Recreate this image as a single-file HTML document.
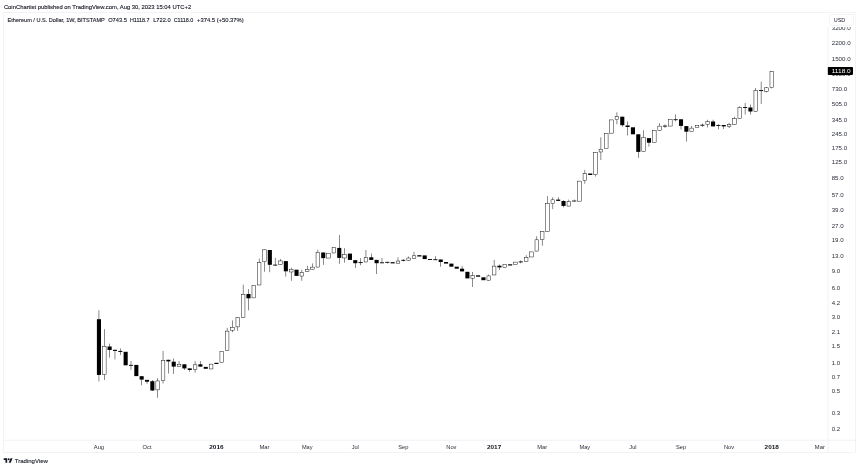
<!DOCTYPE html>
<html><head><meta charset="utf-8"><title>ETHUSD chart</title>
<style>
html,body{margin:0;padding:0;background:#fff;}
body{width:860px;height:469px;overflow:hidden;position:relative;font-family:"Liberation Sans",sans-serif;}
svg{position:absolute;left:0;top:0;display:block;will-change:transform;}
text{font-family:"Liberation Sans",sans-serif;fill:#131722;}
.ax{font-size:5.9px;fill:#2a2e39;}
.tx{font-size:6.1px;fill:#2a2e39;}
.b{font-weight:bold;fill:#131722;}
.hd{font-size:6.1px;fill:#131722;stroke:#131722;stroke-width:0.12px;}
.lg{font-size:6.1px;fill:#131722;stroke:#131722;stroke-width:0.12px;}
</style></head><body>
<svg width="860" height="469" viewBox="0 0 860 469">
<!-- frame -->
<rect x="3.4" y="12.4" width="852.2" height="440" fill="none" stroke="#e3e5ea" stroke-width="0.45"/>
<line x1="3.4" y1="440.3" x2="855.6" y2="440.3" stroke="#e3e5ea" stroke-width="0.45"/>
<line x1="828.1" y1="26.8" x2="828.1" y2="452.4" stroke="#e3e5ea" stroke-width="0.45"/>
<!-- candles -->
<g>
<rect x="98.72" y="310.30" width="0.46" height="71.10" fill="#000"/>
<rect x="96.90" y="319.20" width="4.1" height="55.70" fill="#000"/>
<rect x="104.06" y="329.20" width="0.46" height="50.80" fill="#000"/>
<rect x="102.47" y="346.33" width="3.65" height="28.35" fill="#fff" stroke="#000" stroke-width="0.45"/>
<rect x="109.40" y="343.60" width="0.46" height="14.00" fill="#000"/>
<rect x="107.58" y="346.50" width="4.1" height="3.50" fill="#000"/>
<rect x="114.74" y="349.80" width="0.46" height="9.60" fill="#000"/>
<rect x="112.92" y="349.80" width="4.1" height="1.10" fill="#000"/>
<rect x="120.08" y="348.40" width="0.46" height="6.50" fill="#000"/>
<rect x="118.26" y="350.90" width="4.1" height="1.00" fill="#000"/>
<rect x="123.60" y="351.80" width="4.1" height="13.50" fill="#000"/>
<rect x="130.76" y="361.00" width="0.46" height="8.80" fill="#000"/>
<rect x="128.94" y="364.85" width="4.1" height="0.90" fill="#000"/>
<rect x="134.28" y="364.90" width="4.1" height="11.20" fill="#000"/>
<rect x="141.44" y="376.20" width="0.46" height="9.20" fill="#000"/>
<rect x="139.62" y="376.20" width="4.1" height="3.40" fill="#000"/>
<rect x="146.78" y="379.90" width="0.46" height="3.90" fill="#000"/>
<rect x="144.96" y="379.90" width="4.1" height="1.80" fill="#000"/>
<rect x="152.12" y="380.00" width="0.46" height="11.00" fill="#000"/>
<rect x="150.30" y="381.20" width="4.1" height="9.30" fill="#000"/>
<rect x="157.46" y="378.10" width="0.46" height="19.70" fill="#000"/>
<rect x="155.86" y="380.93" width="3.65" height="8.95" fill="#fff" stroke="#000" stroke-width="0.45"/>
<rect x="162.80" y="350.90" width="0.46" height="32.60" fill="#000"/>
<rect x="161.20" y="360.43" width="3.65" height="20.05" fill="#fff" stroke="#000" stroke-width="0.45"/>
<rect x="168.14" y="359.80" width="0.46" height="13.70" fill="#000"/>
<rect x="166.32" y="359.80" width="4.1" height="1.60" fill="#000"/>
<rect x="173.48" y="358.50" width="0.46" height="15.40" fill="#000"/>
<rect x="171.66" y="361.70" width="4.1" height="4.90" fill="#000"/>
<rect x="178.82" y="361.10" width="0.46" height="5.80" fill="#000"/>
<rect x="177.22" y="364.23" width="3.65" height="2.45" fill="#fff" stroke="#000" stroke-width="0.45"/>
<rect x="184.16" y="364.30" width="0.46" height="5.70" fill="#000"/>
<rect x="182.34" y="364.30" width="4.1" height="4.10" fill="#000"/>
<rect x="189.50" y="368.40" width="0.46" height="3.30" fill="#000"/>
<rect x="187.68" y="368.40" width="4.1" height="1.60" fill="#000"/>
<rect x="194.84" y="361.10" width="0.46" height="11.50" fill="#000"/>
<rect x="193.24" y="364.83" width="3.65" height="4.65" fill="#fff" stroke="#000" stroke-width="0.45"/>
<rect x="200.18" y="361.10" width="0.46" height="5.50" fill="#000"/>
<rect x="198.36" y="364.30" width="4.1" height="2.30" fill="#000"/>
<rect x="203.70" y="366.90" width="4.1" height="1.90" fill="#000"/>
<rect x="209.26" y="364.12" width="3.65" height="4.85" fill="#fff" stroke="#000" stroke-width="0.45"/>
<rect x="214.38" y="362.80" width="4.1" height="1.20" fill="#000"/>
<rect x="219.94" y="351.23" width="3.65" height="11.25" fill="#fff" stroke="#000" stroke-width="0.45"/>
<rect x="226.88" y="327.80" width="0.46" height="23.20" fill="#000"/>
<rect x="225.28" y="331.12" width="3.65" height="19.65" fill="#fff" stroke="#000" stroke-width="0.45"/>
<rect x="232.22" y="320.40" width="0.46" height="11.80" fill="#000"/>
<rect x="230.62" y="327.33" width="3.65" height="2.85" fill="#fff" stroke="#000" stroke-width="0.45"/>
<rect x="237.56" y="317.50" width="0.46" height="13.40" fill="#000"/>
<rect x="235.97" y="317.73" width="3.65" height="9.15" fill="#fff" stroke="#000" stroke-width="0.45"/>
<rect x="242.90" y="284.70" width="0.46" height="32.80" fill="#000"/>
<rect x="241.30" y="294.33" width="3.65" height="22.95" fill="#fff" stroke="#000" stroke-width="0.45"/>
<rect x="248.24" y="289.10" width="0.46" height="21.20" fill="#000"/>
<rect x="246.42" y="294.00" width="4.1" height="4.30" fill="#000"/>
<rect x="251.98" y="285.23" width="3.65" height="12.65" fill="#fff" stroke="#000" stroke-width="0.45"/>
<rect x="258.92" y="258.60" width="0.46" height="26.60" fill="#000"/>
<rect x="257.32" y="262.73" width="3.65" height="22.25" fill="#fff" stroke="#000" stroke-width="0.45"/>
<rect x="264.26" y="249.60" width="0.46" height="22.20" fill="#000"/>
<rect x="262.67" y="249.82" width="3.65" height="11.95" fill="#fff" stroke="#000" stroke-width="0.45"/>
<rect x="269.60" y="250.00" width="0.46" height="22.20" fill="#000"/>
<rect x="267.78" y="250.00" width="4.1" height="14.80" fill="#000"/>
<rect x="274.94" y="257.90" width="0.46" height="7.50" fill="#000"/>
<rect x="273.12" y="264.65" width="4.1" height="0.90" fill="#000"/>
<rect x="280.28" y="258.90" width="0.46" height="5.90" fill="#000"/>
<rect x="278.69" y="260.93" width="3.65" height="3.65" fill="#fff" stroke="#000" stroke-width="0.45"/>
<rect x="285.62" y="261.10" width="0.46" height="15.50" fill="#000"/>
<rect x="283.80" y="261.10" width="4.1" height="10.20" fill="#000"/>
<rect x="290.96" y="267.60" width="0.46" height="13.20" fill="#000"/>
<rect x="289.37" y="269.23" width="3.65" height="2.75" fill="#fff" stroke="#000" stroke-width="0.45"/>
<rect x="294.48" y="269.70" width="4.1" height="6.20" fill="#000"/>
<rect x="301.64" y="269.70" width="0.46" height="11.10" fill="#000"/>
<rect x="300.05" y="272.43" width="3.65" height="3.65" fill="#fff" stroke="#000" stroke-width="0.45"/>
<rect x="306.98" y="265.80" width="0.46" height="6.00" fill="#000"/>
<rect x="305.38" y="269.23" width="3.65" height="2.35" fill="#fff" stroke="#000" stroke-width="0.45"/>
<rect x="312.32" y="263.40" width="0.46" height="6.00" fill="#000"/>
<rect x="310.73" y="267.12" width="3.65" height="2.05" fill="#fff" stroke="#000" stroke-width="0.45"/>
<rect x="317.66" y="249.70" width="0.46" height="17.60" fill="#000"/>
<rect x="316.06" y="252.22" width="3.65" height="14.85" fill="#fff" stroke="#000" stroke-width="0.45"/>
<rect x="323.00" y="252.50" width="0.46" height="12.40" fill="#000"/>
<rect x="321.18" y="252.50" width="4.1" height="5.60" fill="#000"/>
<rect x="326.75" y="253.22" width="3.65" height="4.85" fill="#fff" stroke="#000" stroke-width="0.45"/>
<rect x="332.08" y="247.53" width="3.65" height="5.45" fill="#fff" stroke="#000" stroke-width="0.45"/>
<rect x="339.02" y="235.00" width="0.46" height="28.80" fill="#000"/>
<rect x="337.20" y="247.90" width="4.1" height="10.00" fill="#000"/>
<rect x="344.36" y="248.20" width="0.46" height="14.40" fill="#000"/>
<rect x="342.76" y="254.22" width="3.65" height="3.75" fill="#fff" stroke="#000" stroke-width="0.45"/>
<rect x="347.88" y="253.60" width="4.1" height="6.30" fill="#000"/>
<rect x="355.04" y="260.20" width="0.46" height="7.70" fill="#000"/>
<rect x="353.22" y="260.20" width="4.1" height="3.00" fill="#000"/>
<rect x="360.38" y="258.20" width="0.46" height="7.10" fill="#000"/>
<rect x="358.56" y="262.15" width="4.1" height="0.90" fill="#000"/>
<rect x="365.72" y="250.00" width="0.46" height="12.20" fill="#000"/>
<rect x="364.12" y="257.33" width="3.65" height="4.65" fill="#fff" stroke="#000" stroke-width="0.45"/>
<rect x="371.06" y="253.60" width="0.46" height="6.30" fill="#000"/>
<rect x="369.24" y="257.30" width="4.1" height="2.60" fill="#000"/>
<rect x="376.40" y="259.90" width="0.46" height="14.10" fill="#000"/>
<rect x="374.58" y="259.90" width="4.1" height="3.30" fill="#000"/>
<rect x="381.74" y="257.90" width="0.46" height="5.20" fill="#000"/>
<rect x="379.92" y="262.35" width="4.1" height="0.90" fill="#000"/>
<rect x="387.08" y="262.00" width="0.46" height="1.50" fill="#000"/>
<rect x="385.26" y="261.85" width="4.1" height="0.90" fill="#000"/>
<rect x="390.60" y="262.20" width="4.1" height="1.20" fill="#000"/>
<rect x="397.76" y="257.30" width="0.46" height="6.10" fill="#000"/>
<rect x="396.16" y="261.03" width="3.65" height="2.15" fill="#fff" stroke="#000" stroke-width="0.45"/>
<rect x="403.10" y="259.00" width="0.46" height="2.50" fill="#000"/>
<rect x="401.28" y="259.85" width="4.1" height="0.90" fill="#000"/>
<rect x="408.44" y="256.50" width="0.46" height="4.30" fill="#000"/>
<rect x="406.84" y="258.03" width="3.65" height="2.55" fill="#fff" stroke="#000" stroke-width="0.45"/>
<rect x="413.78" y="251.80" width="0.46" height="6.70" fill="#000"/>
<rect x="412.19" y="255.82" width="3.65" height="2.45" fill="#fff" stroke="#000" stroke-width="0.45"/>
<rect x="417.30" y="255.20" width="4.1" height="1.30" fill="#000"/>
<rect x="422.64" y="255.40" width="4.1" height="3.70" fill="#000"/>
<rect x="429.80" y="259.20" width="0.46" height="0.60" fill="#000"/>
<rect x="427.98" y="259.05" width="4.1" height="0.90" fill="#000"/>
<rect x="435.14" y="256.20" width="0.46" height="3.80" fill="#000"/>
<rect x="433.32" y="259.25" width="4.1" height="0.90" fill="#000"/>
<rect x="440.48" y="259.50" width="0.46" height="7.20" fill="#000"/>
<rect x="438.66" y="259.50" width="4.1" height="2.50" fill="#000"/>
<rect x="444.00" y="262.00" width="4.1" height="1.60" fill="#000"/>
<rect x="449.34" y="263.60" width="4.1" height="3.10" fill="#000"/>
<rect x="454.68" y="266.70" width="4.1" height="2.00" fill="#000"/>
<rect x="461.84" y="265.90" width="0.46" height="5.50" fill="#000"/>
<rect x="460.02" y="268.70" width="4.1" height="2.70" fill="#000"/>
<rect x="465.36" y="271.80" width="4.1" height="6.60" fill="#000"/>
<rect x="472.52" y="272.00" width="0.46" height="15.00" fill="#000"/>
<rect x="470.93" y="275.53" width="3.65" height="2.65" fill="#fff" stroke="#000" stroke-width="0.45"/>
<rect x="476.04" y="275.30" width="4.1" height="1.40" fill="#000"/>
<rect x="481.38" y="277.30" width="4.1" height="2.90" fill="#000"/>
<rect x="488.54" y="274.60" width="0.46" height="5.80" fill="#000"/>
<rect x="486.94" y="275.93" width="3.65" height="4.25" fill="#fff" stroke="#000" stroke-width="0.45"/>
<rect x="493.88" y="259.80" width="0.46" height="15.40" fill="#000"/>
<rect x="492.28" y="266.12" width="3.65" height="8.85" fill="#fff" stroke="#000" stroke-width="0.45"/>
<rect x="499.22" y="264.50" width="0.46" height="5.50" fill="#000"/>
<rect x="497.40" y="265.70" width="4.1" height="1.70" fill="#000"/>
<rect x="502.96" y="264.53" width="3.65" height="2.75" fill="#fff" stroke="#000" stroke-width="0.45"/>
<rect x="508.08" y="264.30" width="4.1" height="1.20" fill="#000"/>
<rect x="513.65" y="262.12" width="3.65" height="2.55" fill="#fff" stroke="#000" stroke-width="0.45"/>
<rect x="520.58" y="260.40" width="0.46" height="2.90" fill="#000"/>
<rect x="518.76" y="261.45" width="4.1" height="0.90" fill="#000"/>
<rect x="525.92" y="255.20" width="0.46" height="6.70" fill="#000"/>
<rect x="524.33" y="257.43" width="3.65" height="4.25" fill="#fff" stroke="#000" stroke-width="0.45"/>
<rect x="529.67" y="251.92" width="3.65" height="5.05" fill="#fff" stroke="#000" stroke-width="0.45"/>
<rect x="536.60" y="236.20" width="0.46" height="15.10" fill="#000"/>
<rect x="535.01" y="239.82" width="3.65" height="11.25" fill="#fff" stroke="#000" stroke-width="0.45"/>
<rect x="541.94" y="231.50" width="0.46" height="14.20" fill="#000"/>
<rect x="540.35" y="231.72" width="3.65" height="7.65" fill="#fff" stroke="#000" stroke-width="0.45"/>
<rect x="547.28" y="196.10" width="0.46" height="35.40" fill="#000"/>
<rect x="545.69" y="203.72" width="3.65" height="27.55" fill="#fff" stroke="#000" stroke-width="0.45"/>
<rect x="552.62" y="197.20" width="0.46" height="12.00" fill="#000"/>
<rect x="551.03" y="199.82" width="3.65" height="3.95" fill="#fff" stroke="#000" stroke-width="0.45"/>
<rect x="557.96" y="197.20" width="0.46" height="3.70" fill="#000"/>
<rect x="556.14" y="199.60" width="4.1" height="1.30" fill="#000"/>
<rect x="563.30" y="200.20" width="0.46" height="7.20" fill="#000"/>
<rect x="561.48" y="201.00" width="4.1" height="4.90" fill="#000"/>
<rect x="568.64" y="199.60" width="0.46" height="6.70" fill="#000"/>
<rect x="567.05" y="201.62" width="3.65" height="4.45" fill="#fff" stroke="#000" stroke-width="0.45"/>
<rect x="573.98" y="199.60" width="0.46" height="2.30" fill="#000"/>
<rect x="572.39" y="200.82" width="3.65" height="0.85" fill="#fff" stroke="#000" stroke-width="0.45"/>
<rect x="577.73" y="181.12" width="3.65" height="20.05" fill="#fff" stroke="#000" stroke-width="0.45"/>
<rect x="584.66" y="169.90" width="0.46" height="13.90" fill="#000"/>
<rect x="583.07" y="173.72" width="3.65" height="6.95" fill="#fff" stroke="#000" stroke-width="0.45"/>
<rect x="588.18" y="173.50" width="4.1" height="1.50" fill="#000"/>
<rect x="595.34" y="152.20" width="0.46" height="24.30" fill="#000"/>
<rect x="593.75" y="152.42" width="3.65" height="22.15" fill="#fff" stroke="#000" stroke-width="0.45"/>
<rect x="600.68" y="137.30" width="0.46" height="22.70" fill="#000"/>
<rect x="599.09" y="149.22" width="3.65" height="2.75" fill="#fff" stroke="#000" stroke-width="0.45"/>
<rect x="604.43" y="133.32" width="3.65" height="15.45" fill="#fff" stroke="#000" stroke-width="0.45"/>
<rect x="609.77" y="119.92" width="3.65" height="13.25" fill="#fff" stroke="#000" stroke-width="0.45"/>
<rect x="616.70" y="112.30" width="0.46" height="12.00" fill="#000"/>
<rect x="615.11" y="116.72" width="3.65" height="3.05" fill="#fff" stroke="#000" stroke-width="0.45"/>
<rect x="622.04" y="116.70" width="0.46" height="10.00" fill="#000"/>
<rect x="620.22" y="116.70" width="4.1" height="8.50" fill="#000"/>
<rect x="627.38" y="121.40" width="0.46" height="14.10" fill="#000"/>
<rect x="625.56" y="125.50" width="4.1" height="1.50" fill="#000"/>
<rect x="630.90" y="127.30" width="4.1" height="7.00" fill="#000"/>
<rect x="638.06" y="134.30" width="0.46" height="23.50" fill="#000"/>
<rect x="636.24" y="134.30" width="4.1" height="17.60" fill="#000"/>
<rect x="643.40" y="130.20" width="0.46" height="21.70" fill="#000"/>
<rect x="641.81" y="137.42" width="3.65" height="14.25" fill="#fff" stroke="#000" stroke-width="0.45"/>
<rect x="648.74" y="138.10" width="0.46" height="8.50" fill="#000"/>
<rect x="646.92" y="138.10" width="4.1" height="4.60" fill="#000"/>
<rect x="652.49" y="130.42" width="3.65" height="12.05" fill="#fff" stroke="#000" stroke-width="0.45"/>
<rect x="659.42" y="123.20" width="0.46" height="7.60" fill="#000"/>
<rect x="657.83" y="126.12" width="3.65" height="4.45" fill="#fff" stroke="#000" stroke-width="0.45"/>
<rect x="664.76" y="124.30" width="0.46" height="3.60" fill="#000"/>
<rect x="662.94" y="125.65" width="4.1" height="0.90" fill="#000"/>
<rect x="668.51" y="119.52" width="3.65" height="6.55" fill="#fff" stroke="#000" stroke-width="0.45"/>
<rect x="675.44" y="114.40" width="0.46" height="7.00" fill="#000"/>
<rect x="673.62" y="119.25" width="4.1" height="0.90" fill="#000"/>
<rect x="680.78" y="119.30" width="0.46" height="10.30" fill="#000"/>
<rect x="678.96" y="119.30" width="4.1" height="6.60" fill="#000"/>
<rect x="686.12" y="126.10" width="0.46" height="15.50" fill="#000"/>
<rect x="684.30" y="126.10" width="4.1" height="5.60" fill="#000"/>
<rect x="691.46" y="125.90" width="0.46" height="6.10" fill="#000"/>
<rect x="689.87" y="128.12" width="3.65" height="3.65" fill="#fff" stroke="#000" stroke-width="0.45"/>
<rect x="695.21" y="125.72" width="3.65" height="1.95" fill="#fff" stroke="#000" stroke-width="0.45"/>
<rect x="702.14" y="123.50" width="0.46" height="3.40" fill="#000"/>
<rect x="700.32" y="124.75" width="4.1" height="0.90" fill="#000"/>
<rect x="707.48" y="119.70" width="0.46" height="7.80" fill="#000"/>
<rect x="705.89" y="121.52" width="3.65" height="2.95" fill="#fff" stroke="#000" stroke-width="0.45"/>
<rect x="712.82" y="119.70" width="0.46" height="6.70" fill="#000"/>
<rect x="711.00" y="121.50" width="4.1" height="4.90" fill="#000"/>
<rect x="718.16" y="124.20" width="0.46" height="5.20" fill="#000"/>
<rect x="716.34" y="124.95" width="4.1" height="0.90" fill="#000"/>
<rect x="723.50" y="125.00" width="0.46" height="4.00" fill="#000"/>
<rect x="721.68" y="125.00" width="4.1" height="1.40" fill="#000"/>
<rect x="728.84" y="122.70" width="0.46" height="5.30" fill="#000"/>
<rect x="727.25" y="124.72" width="3.65" height="1.45" fill="#fff" stroke="#000" stroke-width="0.45"/>
<rect x="734.18" y="116.70" width="0.46" height="7.80" fill="#000"/>
<rect x="732.59" y="118.72" width="3.65" height="5.55" fill="#fff" stroke="#000" stroke-width="0.45"/>
<rect x="739.52" y="106.30" width="0.46" height="12.20" fill="#000"/>
<rect x="737.93" y="107.72" width="3.65" height="10.55" fill="#fff" stroke="#000" stroke-width="0.45"/>
<rect x="744.86" y="103.00" width="0.46" height="11.50" fill="#000"/>
<rect x="743.04" y="107.05" width="4.1" height="0.90" fill="#000"/>
<rect x="750.20" y="104.50" width="0.46" height="10.00" fill="#000"/>
<rect x="748.38" y="107.50" width="4.1" height="4.00" fill="#000"/>
<rect x="755.54" y="88.00" width="0.46" height="23.50" fill="#000"/>
<rect x="753.95" y="90.52" width="3.65" height="20.75" fill="#fff" stroke="#000" stroke-width="0.45"/>
<rect x="760.88" y="81.60" width="0.46" height="22.40" fill="#000"/>
<rect x="759.06" y="90.15" width="4.1" height="0.90" fill="#000"/>
<rect x="766.22" y="87.00" width="0.46" height="5.50" fill="#000"/>
<rect x="764.63" y="87.82" width="3.65" height="3.55" fill="#fff" stroke="#000" stroke-width="0.45"/>
<rect x="771.56" y="71.20" width="0.46" height="17.20" fill="#000"/>
<rect x="769.97" y="71.42" width="3.65" height="16.15" fill="#fff" stroke="#000" stroke-width="0.45"/>
</g>
<!-- price axis -->
<g>
<text x="831.7" y="29.97" class="ax" textLength="19.05" lengthAdjust="spacingAndGlyphs">3200.0</text>
<text x="831.7" y="44.94" class="ax" textLength="19.05" lengthAdjust="spacingAndGlyphs">2200.0</text>
<text x="831.7" y="60.85" class="ax" textLength="19.05" lengthAdjust="spacingAndGlyphs">1500.0</text>
<text x="831.7" y="75.66" class="ax" textLength="19.05" lengthAdjust="spacingAndGlyphs">1050.0</text>
<text x="831.7" y="90.76" class="ax" textLength="15.50" lengthAdjust="spacingAndGlyphs">730.0</text>
<text x="831.7" y="106.06" class="ax" textLength="15.50" lengthAdjust="spacingAndGlyphs">505.0</text>
<text x="831.7" y="121.89" class="ax" textLength="15.50" lengthAdjust="spacingAndGlyphs">345.0</text>
<text x="831.7" y="136.11" class="ax" textLength="15.50" lengthAdjust="spacingAndGlyphs">245.0</text>
<text x="831.7" y="150.08" class="ax" textLength="15.50" lengthAdjust="spacingAndGlyphs">175.0</text>
<text x="831.7" y="164.06" class="ax" textLength="15.50" lengthAdjust="spacingAndGlyphs">125.0</text>
<text x="831.7" y="180.07" class="ax" textLength="11.95" lengthAdjust="spacingAndGlyphs">85.0</text>
<text x="831.7" y="196.67" class="ax" textLength="11.95" lengthAdjust="spacingAndGlyphs">57.0</text>
<text x="831.7" y="212.43" class="ax" textLength="11.95" lengthAdjust="spacingAndGlyphs">39.0</text>
<text x="831.7" y="227.71" class="ax" textLength="11.95" lengthAdjust="spacingAndGlyphs">27.0</text>
<text x="831.7" y="242.30" class="ax" textLength="11.95" lengthAdjust="spacingAndGlyphs">19.0</text>
<text x="831.7" y="258.06" class="ax" textLength="11.95" lengthAdjust="spacingAndGlyphs">13.0</text>
<text x="831.7" y="273.34" class="ax" textLength="8.40" lengthAdjust="spacingAndGlyphs">9.0</text>
<text x="831.7" y="290.18" class="ax" textLength="8.40" lengthAdjust="spacingAndGlyphs">6.0</text>
<text x="831.7" y="304.99" class="ax" textLength="8.40" lengthAdjust="spacingAndGlyphs">4.2</text>
<text x="831.7" y="318.97" class="ax" textLength="8.40" lengthAdjust="spacingAndGlyphs">3.0</text>
<text x="831.7" y="333.78" class="ax" textLength="8.40" lengthAdjust="spacingAndGlyphs">2.1</text>
<text x="831.7" y="347.76" class="ax" textLength="8.40" lengthAdjust="spacingAndGlyphs">1.5</text>
<text x="831.7" y="364.60" class="ax" textLength="8.40" lengthAdjust="spacingAndGlyphs">1.0</text>
<text x="831.7" y="379.41" class="ax" textLength="8.40" lengthAdjust="spacingAndGlyphs">0.7</text>
<text x="831.7" y="393.39" class="ax" textLength="8.40" lengthAdjust="spacingAndGlyphs">0.5</text>
<text x="831.7" y="414.61" class="ax" textLength="8.40" lengthAdjust="spacingAndGlyphs">0.3</text>
<text x="831.7" y="431.45" class="ax" textLength="8.40" lengthAdjust="spacingAndGlyphs">0.2</text>
</g>
<rect x="828.5" y="12.8" width="26.8" height="14.2" fill="#fff"/>
<rect x="829.6" y="14.3" width="24" height="11" rx="1.6" fill="#fff" stroke="#e3e5ea" stroke-width="0.45"/>
<text x="833.8" y="21.8" class="ax" style="font-size:6px;fill:#131722" textLength="11.5" lengthAdjust="spacingAndGlyphs">USD</text>
<rect x="827.8" y="66.9" width="25.2" height="8" rx="0.8" fill="#000"/>
<text x="831.7" y="73.1" class="ax" style="fill:#fff" textLength="19.05" lengthAdjust="spacingAndGlyphs">1118.0</text>
<!-- time axis -->
<g>
<text x="93.85" y="448.6" class="tx" textLength="10.2" lengthAdjust="spacingAndGlyphs">Aug</text>
<text x="142.51" y="448.6" class="tx" textLength="9.0" lengthAdjust="spacingAndGlyphs">Oct</text>
<text x="209.28" y="448.6" class="tx b" textLength="14.3" lengthAdjust="spacingAndGlyphs">2016</text>
<text x="259.49" y="448.6" class="tx" textLength="10.0" lengthAdjust="spacingAndGlyphs">Mar</text>
<text x="301.91" y="448.6" class="tx" textLength="10.6" lengthAdjust="spacingAndGlyphs">May</text>
<text x="351.67" y="448.6" class="tx" textLength="7.2" lengthAdjust="spacingAndGlyphs">Jul</text>
<text x="398.23" y="448.6" class="tx" textLength="10.2" lengthAdjust="spacingAndGlyphs">Sep</text>
<text x="446.29" y="448.6" class="tx" textLength="10.2" lengthAdjust="spacingAndGlyphs">Nov</text>
<text x="486.96" y="448.6" class="tx b" textLength="14.3" lengthAdjust="spacingAndGlyphs">2017</text>
<text x="537.17" y="448.6" class="tx" textLength="10.0" lengthAdjust="spacingAndGlyphs">Mar</text>
<text x="579.59" y="448.6" class="tx" textLength="10.6" lengthAdjust="spacingAndGlyphs">May</text>
<text x="629.35" y="448.6" class="tx" textLength="7.2" lengthAdjust="spacingAndGlyphs">Jul</text>
<text x="675.91" y="448.6" class="tx" textLength="10.2" lengthAdjust="spacingAndGlyphs">Sep</text>
<text x="723.97" y="448.6" class="tx" textLength="10.2" lengthAdjust="spacingAndGlyphs">Nov</text>
<text x="764.64" y="448.6" class="tx b" textLength="14.3" lengthAdjust="spacingAndGlyphs">2018</text>
<text x="814.85" y="448.6" class="tx" textLength="10.0" lengthAdjust="spacingAndGlyphs">Mar</text>
</g>
<!-- header -->
<text x="3.9" y="9.4" class="hd" textLength="187.3" lengthAdjust="spacingAndGlyphs">CoinChartist published on TradingView.com, Aug 30, 2023 15:04 UTC+2</text>
<text x="7.6" y="21.5" class="lg" textLength="97.2" lengthAdjust="spacingAndGlyphs">Ethereum / U.S. Dollar, 1W, BITSTAMP</text>
<text x="108.2" y="21.5" class="lg" textLength="18.7" lengthAdjust="spacingAndGlyphs">O743.5</text>
<text x="129.9" y="21.5" class="lg" textLength="19.6" lengthAdjust="spacingAndGlyphs">H1118.7</text>
<text x="153.2" y="21.5" class="lg" textLength="17.4" lengthAdjust="spacingAndGlyphs">L722.0</text>
<text x="173.7" y="21.5" class="lg" textLength="19.7" lengthAdjust="spacingAndGlyphs">C1118.0</text>
<text x="197.1" y="21.5" class="lg" textLength="46.5" lengthAdjust="spacingAndGlyphs">+374.5 (+50.37%)</text>
<!-- logo -->
<g transform="translate(3.7,457.15) scale(0.25)" fill="#131722">
<path d="M14 22H7V11H0V4h14v18zM28 22h-8l7.5-18h8L28 22z"/><circle cx="20" cy="8" r="4"/>
</g>
<text x="14.7" y="463.2" style="font-size:6px;fill:#131722;stroke:#131722;stroke-width:0.1px" textLength="33.3" lengthAdjust="spacingAndGlyphs">TradingView</text>
</svg>
</body></html>
